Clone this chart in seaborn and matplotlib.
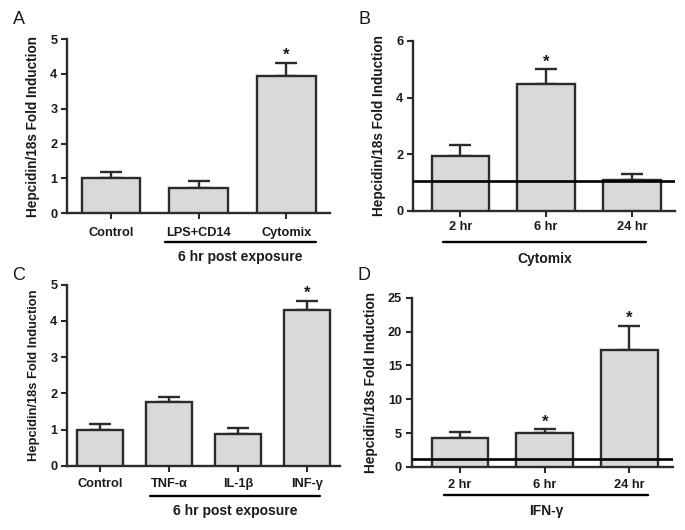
import pandas as pd
import seaborn as sns
import matplotlib.pyplot as plt

sns.set_style("ticks")
plt.rcParams["font.family"] = ["Liberation Sans", "DejaVu Sans"]
plt.rcParams["font.weight"] = "bold"

# Panel A
a_labels = ["Control", "LPS+CD14", "Cytomix"]
a_mean = [1.0, 0.72, 3.95]
a_sem = [0.18, 0.20, 0.37]
a_stars = [False, False, True]

# Panel B
b_labels = ["2 hr", "6 hr", "24 hr"]
b_mean = [1.92, 4.47, 1.10]
b_sem = [0.41, 0.53, 0.20]
b_stars = [False, True, False]
b_base = 1.05

# Panel C
c_labels = ["Control", "TNF-α", "IL-1β", "INF-γ"]
c_mean = [1.0, 1.75, 0.88, 4.30]
c_sem = [0.16, 0.15, 0.16, 0.25]
c_stars = [False, False, False, True]

# Panel D
d_labels = ["2 hr", "6 hr", "24 hr"]
d_mean = [4.35, 5.0, 17.3]
d_sem = [0.75, 0.6, 3.6]
d_stars = [False, True, True]
d_base = 1.2

BAR = "#d9d9d9"
EDGE = "#2b2b2b"
TXT = "#1a1a1a"

fig = plt.figure(figsize=(6.85, 5.3), dpi=100)
axA = fig.add_axes([0.098, 0.598, 0.384, 0.328])
axB = fig.add_axes([0.603, 0.602, 0.382, 0.321])
axC = fig.add_axes([0.098, 0.121, 0.399, 0.342])
axD = fig.add_axes([0.601, 0.119, 0.381, 0.319])


def panel(ax, labels, mean, sem, stars, ylim, yticks, xlim, ylabsize=9.8, xpad=4):
    df = pd.DataFrame({"group": labels, "value": mean})
    sns.barplot(data=df, x="group", y="value", color=BAR, edgecolor=EDGE,
                linewidth=1.7, width=0.67, errorbar=None, ax=ax, zorder=3)
    pos = list(range(len(labels)))
    ax.errorbar(pos, mean, yerr=[[0] * len(sem), sem], fmt="none",
                ecolor=EDGE, elinewidth=1.7, capsize=8, capthick=1.7, zorder=2)
    for i, s in enumerate(stars):
        if s:
            ax.annotate("*", xy=(i, mean[i] + sem[i]), xytext=(0, 2),
                        textcoords="offset points", ha="center", va="baseline",
                        fontsize=12, color=TXT)
    ax.set_ylim(*ylim)
    ax.set_yticks(yticks)
    ax.set_xlim(*xlim)
    ax.set_xlabel("")
    ax.set_ylabel("Hepcidin/18s Fold Induction", fontsize=ylabsize,
                  fontweight="bold", color=TXT, labelpad=7)
    sns.despine(ax=ax)
    for sp in ["left", "bottom"]:
        ax.spines[sp].set_linewidth(1.7)
        ax.spines[sp].set_color(EDGE)
    ax.tick_params(axis="both", length=4, width=1.5, color=EDGE,
                   labelsize=9.2, labelcolor=TXT, pad=3)
    ax.tick_params(axis="x", pad=xpad)
    for t in ax.get_xticklabels() + ax.get_yticklabels():
        t.set_fontweight("bold")


def group_line(ax, x0, x1, yline, ytext, text):
    tr = ax.get_xaxis_transform()
    ax.plot([x0, x1], [yline, yline], color="black", lw=1.7,
            transform=tr, clip_on=False)
    ax.text((x0 + x1) / 2, ytext, text, transform=tr, ha="center",
            va="center", fontsize=10, fontweight="bold", color=TXT)


panel(axA, a_labels, a_mean, a_sem, a_stars, (0, 5), range(0, 6), (-0.5, 2.5), xpad=6)
group_line(axA, 0.62, 2.34, -0.167, -0.253, "6 hr post exposure")

panel(axB, b_labels, b_mean, b_sem, b_stars, (0, 6), [0, 2, 4, 6], (-0.55, 2.5), xpad=3)
axB.axhline(b_base, color="black", lw=1.9, zorder=4)
group_line(axB, -0.2, 2.16, -0.182, -0.282, "Cytomix")

panel(axC, c_labels, c_mean, c_sem, c_stars, (0, 5), range(0, 6), (-0.48, 3.49),
      ylabsize=9.3, xpad=5)
group_line(axC, 0.73, 3.2, -0.166, -0.249, "6 hr post exposure")

panel(axD, d_labels, d_mean, d_sem, d_stars, (0, 25), range(0, 26, 5), (-0.57, 2.51),
      xpad=5)
axD.axhline(d_base, color="black", lw=1.9, zorder=4)
group_line(axD, -0.19, 2.22, -0.166, -0.26, "IFN-γ")

for lab, x, y in [("A", 19, 20), ("B", 364, 20), ("C", 19, 276), ("D", 364, 276)]:
    fig.text(x / 685, 1 - y / 530, lab, ha="center", va="center",
             fontsize=13, fontweight="normal", color=TXT)

fig.savefig("out.png", dpi=100)
